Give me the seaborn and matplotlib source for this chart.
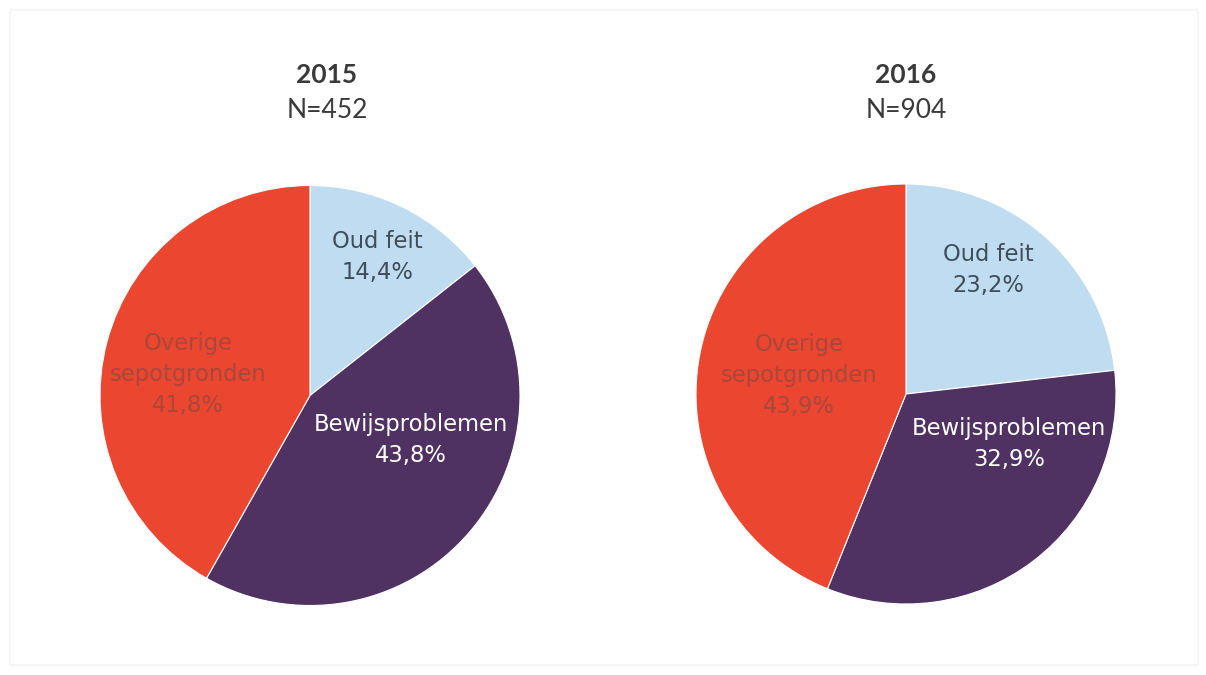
import matplotlib
matplotlib.use('Agg')
import matplotlib.pyplot as plt
import seaborn as sns

# data
categories = ['Oud feit', 'Bewijsproblemen', 'Overige\nsepotgronden']
years = ['2015', '2016']
n_values = [452, 904]
share_2015 = [14.4, 43.8, 41.8]
share_2016 = [23.2, 32.9, 43.9]

sns.set_theme(style='white')
plt.rcParams['font.family'] = ['DejaVu Sans']

COLORS = sns.color_palette(['#bfdcf1', '#4f3262', '#ea4630'])
LABEL_COLORS = ['#3f4d58', 'white', '#a9473a']

# label offsets inside each pie (radius units), per year
LABEL_POS = {
    '2015': [(0.32, 0.66), (0.48, -0.21), (-0.58, 0.10)],
    '2016': [(0.39, 0.59), (0.49, -0.24), (-0.51, 0.09)],
}
W, H = 1206, 675
PIE_BOX = {'2015': (310, 395.5), '2016': (906, 394)}
TITLE_X = {'2015': 327, '2016': 906}
R = 210

fig = plt.figure(figsize=(W / 100, H / 100), dpi=100)
fig.patch.set_facecolor('white')

# faint scan frame
frame = plt.Rectangle((10 / W, 10 / H), 1188 / W, 655 / H, transform=fig.transFigure,
                      fill=False, edgecolor='#f3f3f3', linewidth=1.2)
fig.patches.append(frame)

for year, n, shares in zip(years, n_values, [share_2015, share_2016]):
    cx, cy = PIE_BOX[year]
    ax = fig.add_axes([(cx - R) / W, (H - cy - R) / H, 2 * R / W, 2 * R / H])
    ax.pie(shares, colors=COLORS, startangle=90, counterclock=False,
           radius=1, wedgeprops=dict(edgecolor='white', linewidth=0.8))
    ax.set_xlim(-1, 1)
    ax.set_ylim(-1, 1)
    ax.set_aspect('equal')
    ax.axis('off')
    for cat, val, (lx, ly), col in zip(categories, shares, LABEL_POS[year], LABEL_COLORS):
        txt = f'{cat}\n{val:.1f}%'.replace('.', ',')
        ax.text(lx, ly, txt, ha='center', va='center', fontsize=16.3,
                color=col, linespacing=1.45)
    tx = TITLE_X[year] / W
    fig.text(tx, 1 - 75 / H, year, ha='center', va='center', fontsize=19,
             fontweight='bold', color='#3a3a3a', family=['Lato', 'DejaVu Sans'])
    fig.text(tx, 1 - 110 / H, f'N={n}', ha='center', va='center', fontsize=19,
             color='#3a3a3a', family=['Lato', 'DejaVu Sans'])

plt.savefig('out.png', dpi=100)
plt.close()
